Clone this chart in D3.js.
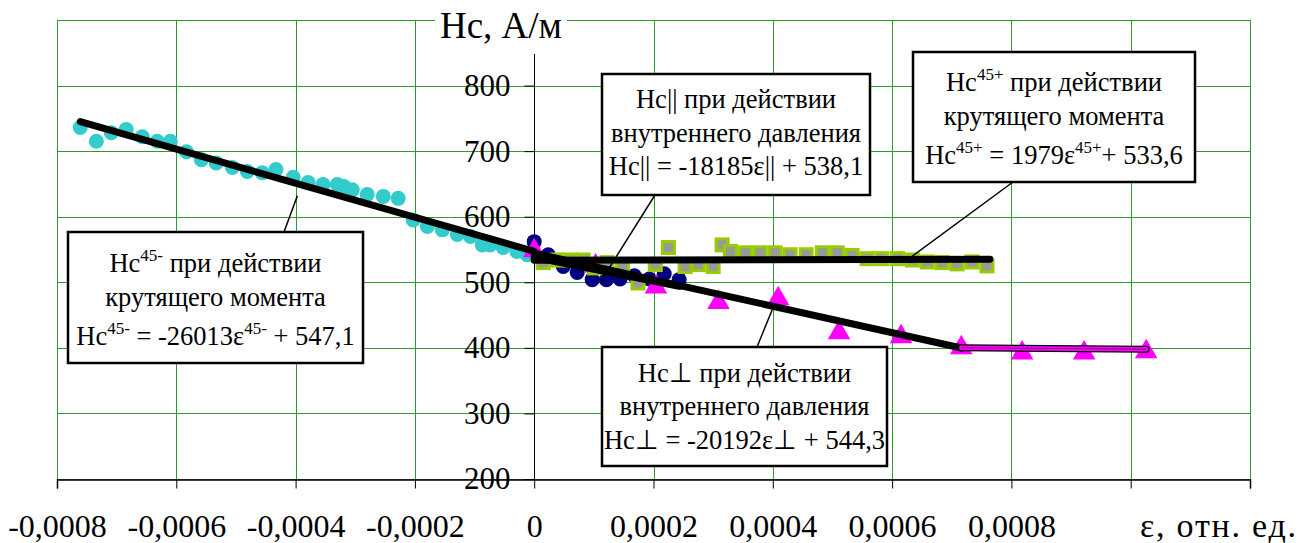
<!DOCTYPE html>
<html>
<head>
<meta charset="utf-8">
<script src="https://cdn.jsdelivr.net/npm/d3@7"></script>
<style>
  body { margin: 0; background: #fff; }
  svg { display: block; }
  svg text { font-family: "Liberation Serif", "Times New Roman", serif; }
</style>
</head>
<body>
<div id="chart"></div>
<script>
// Hc45- (cyan circles), torque
var eps45m = [-0.000761, -0.000734, -0.000709, -0.000684, -0.000657, -0.000632, -0.000610, -0.000583,
    -0.000558, -0.000533, -0.000506, -0.000481, -0.000456, -0.000433, -0.000404, -0.000379, -0.000354,
    -0.000330, -0.000319, -0.000305, -0.000280, -0.000253, -0.000228, -0.000203, -0.000179, -0.000154,
    -0.000129, -0.000107, -0.000087, -0.000074, -0.000052, -0.000029, -0.000012]
var hc45m = [736, 715, 728, 733, 722, 715, 715, 699, 687, 682, 675, 669, 667, 672, 660, 652, 649,
    649, 646, 641, 634, 631, 628, 595, 585, 580, 573, 570, 557, 557, 553, 547, 542]

// Hc|| (navy circles), internal pressure
var epsPar = [0, 0.0000235, 0.0000486, 0.0000721, 0.0000972, 0.000121, 0.000144, 0.000168, 0.000193, 0.000218, 0.000243]
var hcPar = [562, 542, 524, 515, 504, 504, 505, 510, 505, 513, 504]

// Hc_perp (magenta triangles), internal pressure
var epsPerp = [0, 0.000103, 0.000204, 0.000309, 0.000409, 0.000511, 0.000615, 0.000716, 0.000818, 0.000922, 0.001026]
var hcPerp = [548, 525, 493, 469, 475, 423, 417, 400, 392, 392, 394]

// Hc45+ (grey squares), torque
var eps45p = [0.0000151, 0.0000386, 0.0000604, 0.0000821, 0.000101, 0.000122, 0.000148, 0.000174, 0.000203,
    0.000225, 0.000253, 0.000275, 0.000300, 0.000315, 0.000329, 0.000354, 0.000379, 0.000404, 0.000429,
    0.000456, 0.000483, 0.000508, 0.000533, 0.000558, 0.000583, 0.000609, 0.000634, 0.000659, 0.000684,
    0.000709, 0.000734, 0.000759]
var hc45p = [530, 534, 534, 534, 522, 530, 522, 499, 527, 553, 524, 527, 524, 557, 547, 545, 545, 545, 542,
    542, 545, 545, 541, 536, 536, 536, 534, 531, 530, 528, 531, 525]

// trend lines as drawn: slope, intercept, eps range
var fitNames = ["45-", "par", "perp", "45+"]
var fitSlope = [-260130, -181850, -201920, 1979]
var fitIntercept = [547.1, 538.1, 544.3, 533.6]
var fitFrom = [-0.000761, 0, 0, 0]
var fitTo = [0, 0.000243, 0.000716, 0.000764]
// flat segment over the last triangles
var tailEps = [0.000716, 0.001026]
var tailHc = [400, 398]

var xTicks = [-0.0008, -0.0006, -0.0004, -0.0002, 0, 0.0002, 0.0004, 0.0006, 0.0008, 0.001, 0.0012]
var yTicks = [200, 300, 400, 500, 600, 700, 800, 900]

var width = 1305, height = 543
var serif = "'Liberation Serif', 'Times New Roman', serif"

var svg = d3.select("#chart").append("svg")
    .attr("width", width)
    .attr("height", height)

var x = d3.scaleLinear().domain([-0.0008, 0.0012]).range([57, 1250])
var y = d3.scaleLinear().domain([200, 900]).range([479, 20])

var gridColor = "#2f9a2f"

// grid
svg.append("g").selectAll("line.h")
    .data(yTicks)
    .enter().append("line")
    .attr("x1", x(-0.0008)).attr("x2", x(0.0012))
    .attr("y1", function(d) { return Math.round(y(d)) + 0.5 })
    .attr("y2", function(d) { return Math.round(y(d)) + 0.5 })
    .style("stroke", gridColor).style("stroke-width", 1)
svg.append("g").selectAll("line.v")
    .data(xTicks)
    .enter().append("line")
    .attr("y1", y(900)).attr("y2", y(200))
    .attr("x1", function(d) { return Math.round(x(d)) + 0.5 })
    .attr("x2", function(d) { return Math.round(x(d)) + 0.5 })
    .style("stroke", gridColor).style("stroke-width", 1)

// y axis at eps = 0
var yAxis = svg.append("g")
    .attr("transform", "translate(" + (Math.round(x(0)) + 0.5) + ",0)")
    .call(d3.axisLeft(y).tickValues(yTicks.slice(0, 7)).tickSize(10).tickPadding(14).tickFormat(d3.format("d")))
yAxis.attr("font-family", null).attr("font-size", null)
yAxis.select(".domain").attr("d", "M0," + y(900) + "V" + y(200)).style("stroke", "#000")
yAxis.selectAll("line").style("stroke", "#000")
yAxis.selectAll("text")
    .style("font-family", serif).style("font-size", "31px").style("fill", "#000")

// x axis at bottom
var xAxis = svg.append("g")
    .attr("transform", "translate(0," + (Math.round(y(200)) + 0.5) + ")")
    .call(d3.axisBottom(x).tickValues(xTicks).tickSize(9).tickPadding(26)
        .tickFormat(function(d) {
            if (d > 0.0009) return ""
            return d === 0 ? "0" : d3.format(".4f")(d).replace(".", ",").replace("−", "-")
        }))
xAxis.attr("font-family", null).attr("font-size", null)
xAxis.select(".domain").style("stroke", "#000").style("stroke-width", 1.5)
xAxis.selectAll("line").style("stroke", "#000")
xAxis.selectAll("text")
    .style("font-family", serif).style("font-size", "32px").style("fill", "#000")

// axis titles
svg.append("rect").attr("x", 435).attr("y", 4).attr("width", 132).attr("height", 50).style("fill", "#fff")
svg.append("text").attr("x", 501).attr("y", 38).attr("text-anchor", "middle")
    .style("font-family", serif).style("font-size", "37px").text("Hc, А/м")
svg.append("text").attr("x", 1140).attr("y", 537)
    .attr("textLength", 156).attr("lengthAdjust", "spacing")
    .style("font-family", serif).style("font-size", "34px").text("ε, отн. ед.")

// markers
var plot = svg.append("g")

plot.selectAll("circle.cyan")
    .data(d3.range(eps45m.length))
    .enter().append("circle")
    .attr("cx", function(i) { return x(eps45m[i]) })
    .attr("cy", function(i) { return y(hc45m[i]) })
    .attr("r", 7.5)
    .style("fill", "#33cccc")

plot.selectAll("circle.navy")
    .data(d3.range(epsPar.length))
    .enter().append("circle")
    .attr("cx", function(i) { return x(epsPar[i]) })
    .attr("cy", function(i) { return y(hcPar[i]) })
    .attr("r", 7.5)
    .style("fill", "#000080")

var tri = d3.symbol().type(d3.symbolTriangle).size(220)
plot.selectAll("path.tri")
    .data(d3.range(epsPerp.length))
    .enter().append("path")
    .attr("d", tri)
    .attr("transform", function(i) { return "translate(" + x(epsPerp[i]) + "," + y(hcPerp[i]) + ")" })
    .style("fill", "#ff00ff")

plot.selectAll("rect.sq")
    .data(d3.range(eps45p.length))
    .enter().append("rect")
    .attr("x", function(i) { return x(eps45p[i]) - 6 })
    .attr("y", function(i) { return y(hc45p[i]) - 6 })
    .attr("width", 12).attr("height", 12)
    .style("fill", "#999999")
    .style("stroke", "#99cc00")
    .style("stroke-width", 3)

// trend lines
var line = d3.line().x(function(d) { return x(d[0]) }).y(function(d) { return y(d[1]) })
fitNames.forEach(function(name, i) {
    var pts = [fitFrom[i], fitTo[i]].map(function(e) { return [e, fitSlope[i] * e + fitIntercept[i]] })
    svg.append("path").attr("d", line(pts))
        .style("fill", "none").style("stroke", "#000").style("stroke-width", 7).style("stroke-linecap", "round")
})
var tailPts = tailEps.map(function(e, i) { return [e, tailHc[i]] })
svg.append("path").attr("d", line(tailPts))
    .style("fill", "none").style("stroke", "#000").style("stroke-width", 7).style("stroke-linecap", "round")
svg.append("path").attr("d", line(tailPts))
    .style("fill", "none").style("stroke", "#ff00ff").style("stroke-width", 4.5).style("stroke-linecap", "round")
svg.append("path").attr("d", line(tailPts))
    .style("fill", "none").style("stroke", "#800080").style("stroke-width", 1)

// annotation boxes
function box(bx, by, bw, bh, rows, leaderFrom, target) {
    svg.append("line")
        .attr("x1", leaderFrom[0]).attr("y1", leaderFrom[1])
        .attr("x2", x(target[0])).attr("y2", y(target[1]))
        .style("stroke", "#000").style("stroke-width", 1.5)
    svg.append("rect").attr("x", bx).attr("y", by).attr("width", bw).attr("height", bh)
        .style("fill", "#fff").style("stroke", "#000").style("stroke-width", 2.5)
    var cx = bx + bw / 2
    rows.forEach(function(r) {
        var t = svg.append("text").attr("x", cx).attr("y", r.y).attr("text-anchor", "middle")
            .style("font-family", serif).style("font-size", "26.5px")
        var shift = 0
        r.parts.forEach(function(p) {
            if (typeof p === "string") {
                t.append("tspan").attr("dy", shift).text(p)
                shift = 0
            } else {
                t.append("tspan").attr("dy", -11).style("font-size", "17px").text(p.up)
                shift = 11
            }
        })
    })
}

box(602, 74, 268, 121, [
    { y: 108, parts: ["Hc|| при действии"] },
    { y: 142, parts: ["внутреннего давления"] },
    { y: 175, parts: ["Hc|| = -18185ε|| + 538,1"] }
], [655, 195], [0.000112, 502])

box(913, 52, 282, 130, [
    { y: 91, parts: ["Hc", { up: "45+" }, " при действии"] },
    { y: 125, parts: ["крутящего момента"] },
    { y: 164, parts: ["Hc", { up: "45+" }, "  = 1979ε", { up: "45+" }, "+ 533,6"] }
], [1013, 182], [0.000634, 540])

box(68, 232, 295, 131, [
    { y: 272, parts: ["Hc", { up: "45-" }, " при действии"] },
    { y: 306, parts: ["крутящего момента"] },
    { y: 345, parts: ["Hc", { up: "45-" }, " = -26013ε", { up: "45-" }, " + 547,1"] }
], [284, 232], [-0.000397, 632])

box(602, 347, 285, 119, [
    { y: 382, parts: ["Hc⊥ при действии"] },
    { y: 415, parts: ["внутреннего давления"] },
    { y: 449, parts: ["Hc⊥ = -20192ε⊥ + 544,3"] }
], [757, 347], [0.000399, 458])
</script>
</body>
</html>
